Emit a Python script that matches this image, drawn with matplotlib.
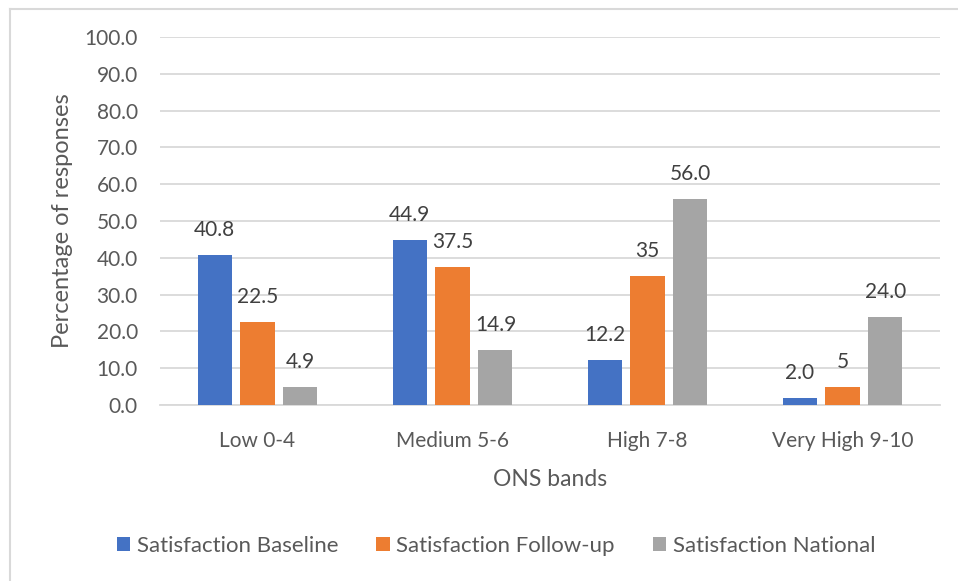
import matplotlib
matplotlib.use('Agg')
import matplotlib.pyplot as plt
from matplotlib.lines import Line2D
import numpy as np

categories = ["Low 0-4", "Medium 5-6", "High 7-8", "Very High 9-10"]
series_names = ["Satisfaction Baseline", "Satisfaction Follow-up", "Satisfaction National"]
baseline = [40.8, 44.9, 12.2, 2.0]
follow_up = [22.5, 37.5, 35, 5]
national = [4.9, 14.9, 56.0, 24.0]
colors = ["#4472C4", "#ED7D31", "#A5A5A5"]
y_ticks = [0, 10, 20, 30, 40, 50, 60, 70, 80, 90, 100]

text_color = "#595959"
plt.rcParams['font.family'] = ['Lato', 'DejaVu Sans']

W, H = 958, 581
fig = plt.figure(figsize=(W / 100, H / 100), dpi=100)
ax = fig.add_axes([160 / W, 1 - 405 / H, 780 / W, 368 / H])

# chart border (only top and left edges fall inside the image)
frame = "#D9D9D9"
fig.lines.append(Line2D([9.5 / W, 1], [1 - 8.5 / H] * 2, transform=fig.transFigure,
                        color=frame, linewidth=1.5))
fig.lines.append(Line2D([9.5 / W] * 2, [0, 1 - 8.5 / H], transform=fig.transFigure,
                        color=frame, linewidth=1.5))

x = np.arange(len(categories))
width = 0.175
offset = 0.22
all_series = [baseline, follow_up, national]

for i, (vals, name, col) in enumerate(zip(all_series, series_names, colors)):
    pos = x + (i - 1) * offset
    bars = ax.bar(pos, vals, width, color=col, label=name, zorder=3)
    for b, v in zip(bars, vals):
        # whole numbers are shown without a decimal place
        label = str(v) if isinstance(v, int) else f"{v:.1f}"
        ax.annotate(label, (b.get_x() + b.get_width() / 2, v),
                    xytext=(0, 18), textcoords="offset points",
                    ha="center", va="center", fontsize=15, color="#404040")

ax.set_xlim(-0.5, len(categories) - 0.5)
ax.set_ylim(0, 100)
ax.set_yticks(y_ticks)
ax.set_yticklabels([f"{t:.1f}" for t in y_ticks])
ax.set_xticks(x)
ax.set_xticklabels(categories)
ax.tick_params(axis="both", length=0, labelsize=15, labelcolor=text_color)
ax.tick_params(axis="y", pad=16)
ax.tick_params(axis="x", pad=19)
ax.grid(axis="y", color="#D9D9D9", linewidth=1.3, zorder=0)
for side in ["top", "right", "left"]:
    ax.spines[side].set_visible(False)
ax.spines["bottom"].set_color("#D9D9D9")
ax.spines["bottom"].set_linewidth(1.3)

ax.set_ylabel("Percentage of responses", fontsize=17, color=text_color, labelpad=8)
ax.set_xlabel("ONS bands", fontsize=16.5, color=text_color, labelpad=13)

fig.legend(loc="center", bbox_to_anchor=(496 / W, 1 - 546 / H), ncol=3,
           frameon=False, fontsize=16, labelcolor=text_color,
           handlelength=0.6, handleheight=0.6, handletextpad=0.3,
           columnspacing=1.7)

fig.savefig("out.png", dpi=100)
